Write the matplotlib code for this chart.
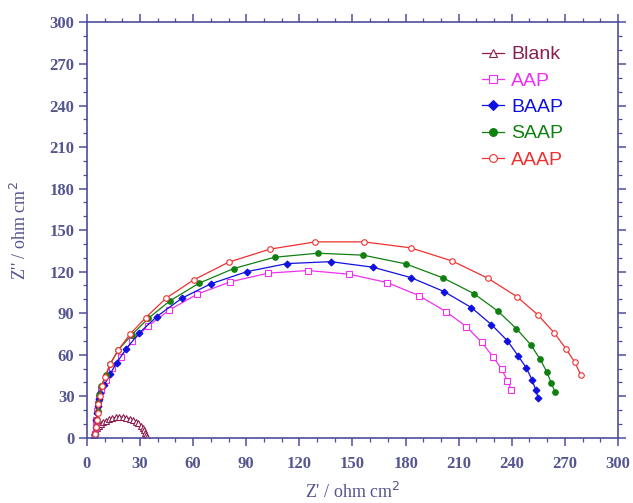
import matplotlib
matplotlib.use("Agg")
import matplotlib.pyplot as plt
from matplotlib.ticker import MultipleLocator

# Nyquist data: Z' (real) and Z'' (imaginary), ohm cm^2
blank_x = [3.6, 3.8, 4.2, 4.8, 5.6, 6.6, 7.8, 9.2, 10.8, 12.5, 14.3, 16.2, 18.2,
           20.2, 22.2, 24.1, 25.9, 27.5, 29.0, 30.3, 31.4, 32.3, 33.0, 33.5, 33.8]
blank_y = [0.5, 2.2, 3.8, 5.5, 7.0, 8.5, 9.9, 11.2, 12.4, 13.4, 14.2, 14.7, 15.0,
           14.9, 14.5, 13.8, 12.8, 11.7, 10.3, 8.8, 7.1, 5.4, 3.7, 2.1, 0.6]

aap_x = [4.5, 5.0, 5.3, 5.8, 6.3, 7.0, 7.9, 10.8, 14.3, 19.1, 25.6, 34.7, 46.6, 62.1,
         80.9, 102.3, 125.0, 148.3, 169.6, 187.5, 202.8, 214.3, 223.0, 229.6, 234.3,
         237.5, 239.8]
aap_y = [3, 8, 13, 19, 24, 29, 34.5, 41.7, 50.2, 58.6, 69.9, 80.8, 92.3, 103.6,
         112.6, 118.9, 120.8, 118.1, 112.1, 102.7, 91.1, 80.3, 69.0, 58.1, 49.5,
         41.2, 34.5]

baap_x = [4.5, 5.0, 5.3, 5.7, 6.2, 6.8, 7.4, 9.8, 13.0, 16.8, 22.1, 29.4, 39.4, 53.6,
          70.0, 90.4, 113.0, 137.7, 161.5, 183.0, 201.7, 217.2, 228.5, 237.5, 243.5,
          248.3, 251.5, 253.5, 255.0]
baap_y = [3, 8, 13, 18, 23, 28, 32, 38.1, 45.8, 54.2, 64.1, 75.5, 87.5, 100.8,
          111.2, 120.0, 125.8, 127.2, 123.2, 115.7, 105.6, 94.0, 81.7, 70.1, 59.3,
          50.2, 41.7, 34.5, 28.5]

saap_x = [4.5, 5.0, 5.5, 6.0, 6.5, 7.0, 7.8, 10.8, 13.0, 17.7, 25.3, 34.7, 47.0, 63.3,
          82.8, 106.0, 130.6, 156.0, 180.1, 201.1, 218.6, 232.2, 242.6, 250.7, 256.0,
          259.8, 262.2, 264.5]
saap_y = [3, 8, 13, 19, 25, 31, 37, 45, 53, 63.4, 74.3, 86.3, 99.0, 111.6,
          122.2, 130.4, 133.3, 131.9, 125.6, 115.5, 104.1, 91.4, 78.8, 67.2, 56.7,
          47.5, 39.8, 32.8]

aaap_x = [4.5, 5.0, 5.5, 6.0, 6.5, 7.5, 8.5, 10.2, 13.0, 17.7, 24.3, 33.2, 44.7, 60.2,
          80.0, 103.2, 129.0, 156.4, 182.8, 206.5, 226.5, 242.8, 254.8, 263.9, 270.5,
          275.6, 279.0]
aaap_y = [3, 8, 13, 18, 24, 30, 37, 44, 53, 63.4, 74.8, 86.8, 100.8, 114.0,
          126.8, 136.2, 141.5, 141.5, 137.2, 127.6, 115.2, 102.0, 88.7, 75.9, 64.4,
          54.5, 45.3]

series = [
    ("Blank", blank_x, blank_y, "#8c1f4f", "^", "none"),
    ("AAP", aap_x, aap_y, "#f030f0", "s", "none"),
    ("BAAP", baap_x, baap_y, "#1010e0", "D", "full"),
    ("SAAP", saap_x, saap_y, "#108010", "o", "full"),
    ("AAAP", aaap_x, aaap_y, "#f03030", "o", "none"),
]

axis_col = "#4e4e9c"
label_col = "#55558f"

fig = plt.figure(figsize=(6.33, 5.03), dpi=100)
ax = fig.add_axes([0.1374, 0.1298, 0.8389, 0.8255])

for name, x, y, col, mk, fill in series:
    mfc = "white" if fill == "none" else col
    ms = 4 if mk != "D" else 3.5
    ax.plot(x, y, color=col, lw=0.9, marker=mk, ms=ms, mfc=mfc, mec=col,
            mew=0.8, label=name)

ax.set_xlim(0, 300)
ax.set_ylim(0, 300)
ax.xaxis.set_major_locator(MultipleLocator(30))
ax.yaxis.set_major_locator(MultipleLocator(30))
ax.xaxis.set_minor_locator(MultipleLocator(10))
ax.yaxis.set_minor_locator(MultipleLocator(10))

for s in ax.spines.values():
    s.set_color(axis_col)
    s.set_linewidth(1.2)
ax.tick_params(which="both", direction="out", color=axis_col, top=True, right=True,
               labelcolor=label_col, labelsize=12)
ax.tick_params(which="major", length=6, width=1.1)
ax.tick_params(which="minor", length=3, width=0.9)
ax.tick_params(axis="x", which="major", pad=7)
ax.tick_params(axis="y", which="major", pad=3)
for lab in ax.get_xticklabels() + ax.get_yticklabels():
    lab.set_family("Liberation Serif")
    lab.set_fontweight("bold")

ax.set_xlabel("Z' / ohm cm$^2$", family="Liberation Serif", fontsize=13,
              color=label_col, labelpad=7)
ax.set_ylabel("Z'' / ohm cm$^2$", family="Liberation Serif", fontsize=13,
              color=label_col, labelpad=14)

leg = ax.legend(loc="upper right", bbox_to_anchor=(0.897, 0.944), frameon=False,
                prop={"family": "Liberation Sans", "size": 14}, handlelength=1.15,
                handletextpad=0.35, labelspacing=0.45, borderpad=0,
                borderaxespad=0, markerscale=1.4)
for text, (_, _, _, col, _, _) in zip(leg.get_texts(), series):
    text.set_color(col)

fig.savefig("out.png", dpi=100, facecolor="white")
